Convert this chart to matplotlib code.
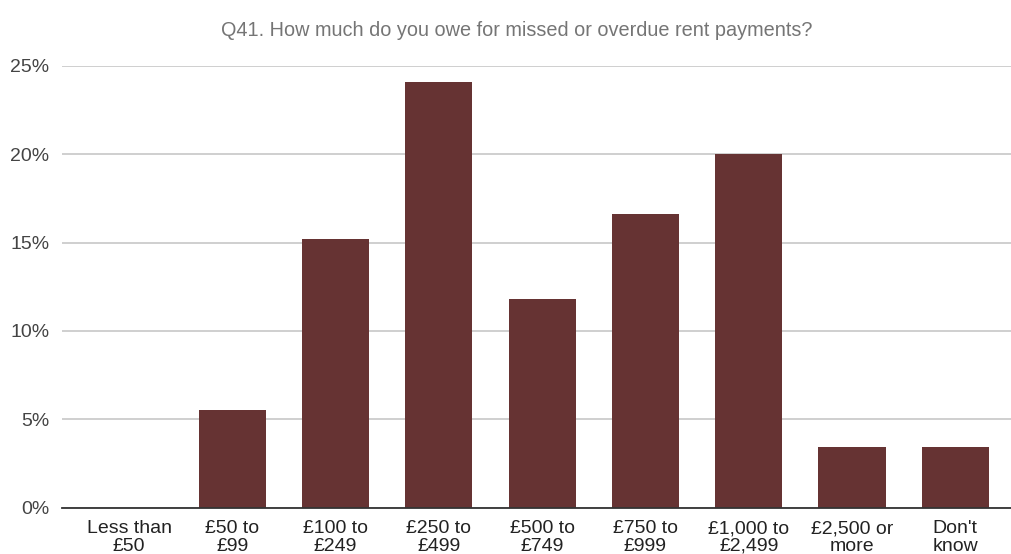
import matplotlib
matplotlib.use('Agg')
import matplotlib.pyplot as plt

# datos
categorias = ["Less than\n£50", "£50 to\n£99", "£100 to\n£249", "£250 to\n£499",
              "£500 to\n£749", "£750 to\n£999", "£1,000 to\n£2,499", "£2,500 or\nmore",
              "Don't\nknow"]
porcentajes = [0.0, 5.5, 15.2, 24.1, 11.8, 16.6, 20.0, 3.45, 3.45]
yticks = [0, 5, 10, 15, 20, 25]
ytick_labels = ["0%", "5%", "10%", "15%", "20%", "25%"]

titulo = "Q41. How much do you owe for missed or overdue rent payments?"
color_barra = "#663333"

plt.rcParams['font.family'] = ['Liberation Sans', 'DejaVu Sans']

fig = plt.figure(figsize=(10.11, 5.54), dpi=100)
ax = fig.add_axes([0.0613, 0.0839, 0.9387, 0.797])

x = list(range(len(categorias)))
ax.bar(x, porcentajes, width=0.65, color=color_barra, zorder=3)

ax.set_xlim(-0.65, 8.54)
ax.set_ylim(0, 25)
ax.set_yticks(yticks)
ax.set_yticklabels(ytick_labels, fontsize=14, color="#444444")
ax.set_xticks(x)
ax.set_xticklabels(categorias, fontsize=14, color="#222222", linespacing=1.05)
ax.tick_params(axis='y', length=0, pad=9)
ax.tick_params(axis='x', length=0, pad=9)

ax.grid(axis='y', color="#cccccc", linewidth=1.3, zorder=0)
for s in ['top', 'right', 'left']:
    ax.spines[s].set_visible(False)
ax.spines['bottom'].set_color("#333333")
ax.spines['bottom'].set_linewidth(1.3)
ax.spines['bottom'].set_zorder(4)

fig.text(0.511, 0.945, titulo, ha='center', va='center', fontsize=14.3, color="#757575")

fig.savefig("out.png", dpi=100)
